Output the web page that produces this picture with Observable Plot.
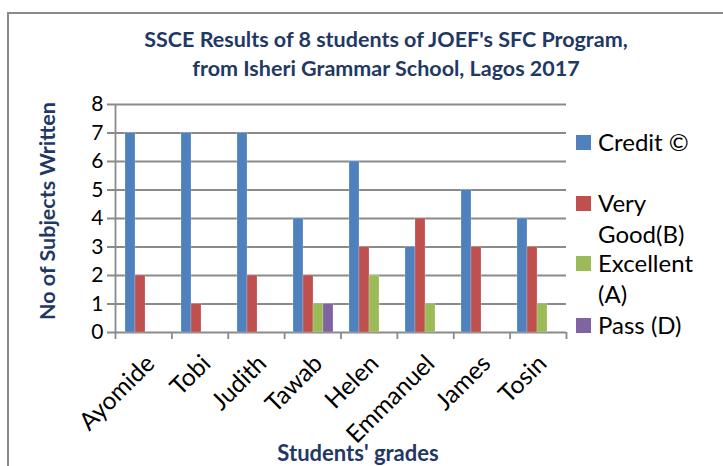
<!DOCTYPE html>
<html>
<head>
<meta charset="utf-8">
<script src="https://cdn.jsdelivr.net/npm/d3@7"></script>
<script src="https://cdn.jsdelivr.net/npm/@observablehq/plot@0.6"></script>
<style>
  html, body { margin: 0; padding: 0; background: #fff; }
  #wrap { position: relative; width: 723px; height: 466px; overflow: hidden; font-family: Lato, "Open Sans", sans-serif; }
  #wrap svg { position: absolute; left: 0; top: 0; background: transparent !important; }
  #wrap svg.bgplot text { font-size: 21px; }
  #wrap svg.fgplot text { font-size: 24.5px; }
  .frame { position: absolute; left: 7px; top: 12px; width: 800px; height: 500px; border-top: 2px solid #8a8a8a; border-left: 2px solid #8a8a8a; }
  .title { position: absolute; left: 0; width: 772px; top: 25px; text-align: center; color: #1F3864; font-weight: bold; font-size: 21.5px; line-height: 29px; }
  .ytitle { position: absolute; left: 47px; top: 211px; transform: translate(-50%, -50%) rotate(-90deg); white-space: nowrap; color: #1F3864; font-weight: bold; font-size: 21.5px; }
  .xtitle { position: absolute; left: 358px; top: 452px; transform: translate(-50%, -50%); white-space: nowrap; color: #1F3864; font-weight: bold; font-size: 22px; }
  .legend { position: absolute; left: 576px; top: 0; }
  .litem { position: absolute; left: 0; width: 145px; }
  .lsw { position: absolute; left: 0; width: 15px; height: 15px; }
  .ltxt { position: absolute; left: 22px; font-size: 24px; line-height: 31px; color: #000; white-space: nowrap; }
</style>
</head>
<body>
<div id="wrap"></div>
<script>
const students = ["Ayomide", "Tobi", "Judith", "Tawab", "Helen", "Emmanuel", "James", "Tosin"];
const grades = ["Credit ©", "Very Good(B)", "Excellent (A)", "Pass (D)"];
const credit    = [7, 7, 7, 4, 6, 3, 5, 4];
const veryGood  = [2, 1, 2, 2, 3, 4, 3, 3];
const excellent = [0, 0, 0, 1, 2, 1, 0, 1];
const pass      = [0, 0, 0, 1, 0, 0, 0, 0];
const colors = ["#4F81BD", "#C0504D", "#9BBB59", "#8064A2"];
const yTicks = [0, 1, 2, 3, 4, 5, 6, 7, 8];
const titleLines = ["SSCE Results of 8 students of JOEF's SFC Program,", "from Isheri Grammar School, Lagos 2017"];
const yTitle = "No of Subjects Written";
const xTitle = "Students' grades";
const legendLines = [["Credit ©"], ["Very", "Good(B)"], ["Excellent", "(A)"], ["Pass (D)"]];

const series = [credit, veryGood, excellent, pass];
const data = [];
students.forEach((s, i) => grades.forEach((g, j) => data.push({student: s, grade: g, value: series[j][i]})));

const W = 723, H = 466;
const margins = {marginLeft: 115, marginRight: 157, marginTop: 104, marginBottom: 134};

const wrap = document.getElementById("wrap");

const frame = document.createElement("div");
frame.className = "frame";
wrap.appendChild(frame);

// background: grid, axis line, ticks, y labels
const bg = Plot.plot({
  width: W, height: H, ...margins,
  style: {fontFamily: "Lato, 'Open Sans', sans-serif", fontSize: "21px", color: "#000", background: "transparent"},
  x: {domain: [0, students.length], axis: null},
  y: {domain: [0, 8], ticks: yTicks, tickSize: 0, tickPadding: 12, label: null, tickFormat: d => String(d)},
  marks: [
    Plot.ruleY(yTicks, {stroke: "#8a8a8a", strokeWidth: 1.8, insetLeft: -8}),
    Plot.ruleX([0], {stroke: "#8a8a8a", strokeWidth: 1.8}),
    Plot.ruleX(d3.range(students.length + 1), {y1: 0, y2: 0, insetBottom: -7, stroke: "#8a8a8a", strokeWidth: 1.8})
  ]
});
bg.classList.add("bgplot");
wrap.appendChild(bg);

// foreground: faceted grouped bars
const hasAxisMarks = typeof Plot.axisFx === "function";
const fgMarks = [
  Plot.barY(data, {x: "grade", y: "value", fill: "grade", stroke: "#ffffff", strokeOpacity: 0.35, strokeWidth: 0.6})
];
if (hasAxisMarks) {
  fgMarks.push(Plot.axisFx({anchor: "bottom", tickRotate: -45, tickSize: 0, tickPadding: 8, dx: 5, dy: 19, label: null, fontSize: 24.5}));
}
const fg = Plot.plot({
  width: W, height: H, ...margins,
  style: {fontFamily: "Lato, 'Open Sans', sans-serif", fontSize: "24.5px", color: "#000", background: "transparent"},
  facet: {data, x: "student"},
  fx: hasAxisMarks
    ? {domain: students, paddingInner: 0.29, paddingOuter: 0.145, label: null}
    : {domain: students, paddingInner: 0.29, paddingOuter: 0.145, axis: "bottom", label: null, tickRotate: -45, tickSize: 0, tickPadding: 26},
  x: {domain: grades, padding: 0, axis: null},
  y: {domain: [0, 8], axis: null},
  color: {domain: grades, range: colors},
  marks: fgMarks
});
fg.classList.add("fgplot");
wrap.appendChild(fg);

const t = document.createElement("div");
t.className = "title";
t.innerHTML = titleLines.map(l => `<div>${l.replace(/&/g,"&amp;")}</div>`).join("");
wrap.appendChild(t);

const yt = document.createElement("div");
yt.className = "ytitle"; yt.textContent = yTitle; wrap.appendChild(yt);
const xt = document.createElement("div");
xt.className = "xtitle"; xt.textContent = xTitle; wrap.appendChild(xt);

const lg = document.createElement("div");
lg.className = "legend";
const itemTops = [142, 203, 263, 325];
legendLines.forEach((lines, i) => {
  const it = document.createElement("div");
  it.className = "litem";
  it.style.top = (itemTops[i]) + "px";
  const sw = document.createElement("div");
  sw.className = "lsw"; sw.style.background = colors[i]; sw.style.top = "-7.5px";
  const tx = document.createElement("div");
  tx.className = "ltxt"; tx.style.top = "-16px";
  tx.innerHTML = lines.join("<br>");
  it.appendChild(sw); it.appendChild(tx);
  lg.appendChild(it);
});
wrap.appendChild(lg);
</script>
</body>
</html>
